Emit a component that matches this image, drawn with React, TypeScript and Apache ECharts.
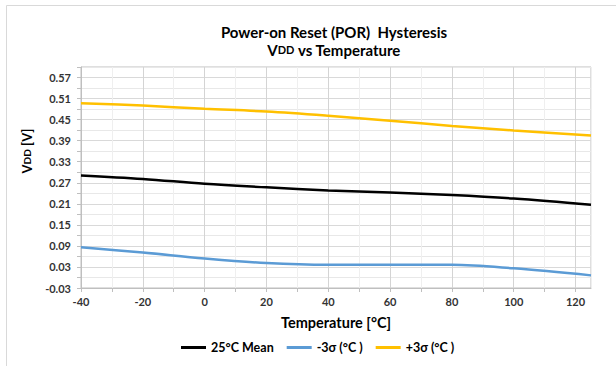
import React, { useEffect, useRef } from "react";
import * as echarts from "echarts";

const temps = [-40, -20, 0, 20, 40, 60, 80, 100, 125];
const mean25 = [0.291, 0.281, 0.267, 0.257, 0.248, 0.242, 0.235, 0.225, 0.207];
const minus3 = [0.086, 0.071, 0.054, 0.041, 0.036, 0.036, 0.036, 0.026, 0.006];
const plus3 = [0.497, 0.49, 0.481, 0.473, 0.461, 0.447, 0.432, 0.419, 0.405];
const seriesNames = ["25°C Mean", "-3σ (°C )", "+3σ (°C )"];
const seriesColors = ["#000000", "#5B9BD5", "#FFC000"];

const FONT = "Lato";

export default function App() {
  const ref = useRef<HTMLDivElement>(null);
  useEffect(() => {
    document.body.style.margin = "0";
    const chart = echarts.init(ref.current!, undefined, { renderer: "svg" });
    const pairs = (ys: number[]) => temps.map((t, i) => [t, ys[i]]);
    const allData = [mean25, minus3, plus3];
    chart.setOption({
      animation: false,
      backgroundColor: "#ffffff",
      textStyle: { fontFamily: FONT },
      title: [
        {
          text: "Power-on Reset (POR)  Hysteresis",
          left: 329,
          top: 19,
          textAlign: "center",
          textStyle: { fontFamily: FONT, fontWeight: "bold", fontSize: 15, color: "#000" },
        },
        {
          text: "{a|V}{b|DD}{a| vs Temperature}",
          left: 329,
          top: 37,
          textAlign: "center",
          textStyle: {
            rich: {
              a: { fontFamily: FONT, fontWeight: "bold", fontSize: 15, color: "#000" },
              b: { fontFamily: FONT, fontWeight: "bold", fontSize: 11, color: "#000" },
            },
          },
        },
      ],
      graphic: [
        {
          type: "rect",
          shape: { x: 6.5, y: 5.5, width: 700, height: 500 },
          style: { fill: "none", stroke: "#d9d9d9", lineWidth: 1 },
          silent: true,
        },
        {
          type: "text",
          x: 27,
          y: 151,
          rotation: Math.PI / 2,
          style: {
            text: "{a|V}{b|DD}{a| [V]}",
            align: "center",
            verticalAlign: "middle",
            rich: {
              a: { fontFamily: FONT, fontWeight: "bold", fontSize: 13, color: "#000" },
              b: { fontFamily: FONT, fontWeight: "bold", fontSize: 10, color: "#000" },
            },
          },
        },
      ],
      grid: {
        left: 81,
        right: 25,
        top: 67,
        bottom: 78,
        show: true,
        borderColor: "#bfbfbf",
        borderWidth: 1,
      },
      legend: {
        bottom: 7,
        left: 176,
        itemWidth: 25,
        itemHeight: 3,
        itemGap: 13,
        icon: "rect",
        textStyle: { fontFamily: FONT, fontWeight: "bold", fontSize: 12.5, color: "#000" },
        data: seriesNames,
      },
      xAxis: {
        type: "value",
        min: -40,
        max: 125,
        interval: 10,
        name: "Temperature [°C]",
        nameLocation: "middle",
        nameGap: 27,
        nameTextStyle: { fontFamily: FONT, fontWeight: "bold", fontSize: 14.5, color: "#000" },
        axisLine: { show: true, onZero: false, lineStyle: { color: "#bfbfbf" } },
        axisTick: { show: true, length: 4, lineStyle: { color: "#bfbfbf" } },
        axisLabel: {
          margin: 8,
          fontFamily: FONT,
          fontWeight: "bold",
          fontSize: 11,
          color: "#333",
          showMaxLabel: false,
          formatter: (v: number) => (Math.round(v) % 20 === 0 && v <= 120 ? String(v) : ""),
        },
        splitLine: { show: true, lineStyle: { color: ["#d4d4d4", "#efefef"], width: 1 } },
      },
      yAxis: {
        type: "value",
        min: -0.03,
        max: 0.6,
        interval: 0.03,
        axisLine: { show: true, onZero: false, lineStyle: { color: "#bfbfbf" } },
        axisTick: { show: true, length: 4, lineStyle: { color: "#bfbfbf" } },
        axisLabel: {
          margin: 10,
          fontFamily: FONT,
          fontWeight: "bold",
          fontSize: 11,
          color: "#333",
          formatter: (v: number) => {
            const k = Math.round(v / 0.03);
            return k % 2 !== 0 ? v.toFixed(2) : "";
          },
        },
        splitLine: { show: true, lineStyle: { color: ["#d9d9d9", "#e8e8e8"], width: 1 } },
      },
      series: allData.map((ys, i) => ({
        name: seriesNames[i],
        type: "line",
        data: pairs(ys),
        smooth: 0.35,
        showSymbol: false,
        symbol: "none",
        lineStyle: { color: seriesColors[i], width: 2.5 },
        itemStyle: { color: seriesColors[i] },
      })),
    });
    return () => chart.dispose();
  }, []);
  return <div ref={ref} style={{ width: 616, height: 366 }} />;
}
